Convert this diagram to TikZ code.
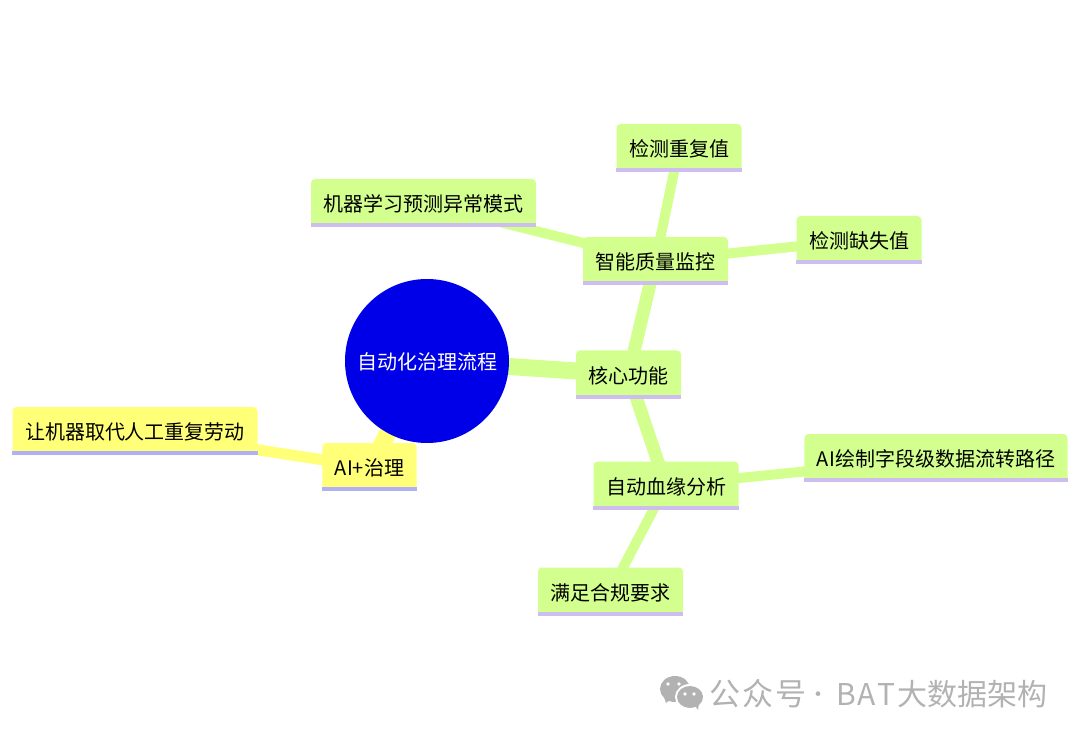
\documentclass[tikz,border=0pt]{standalone}
\usepackage{fontspec}
\setmainfont{Noto Sans CJK SC}
\usetikzlibrary{backgrounds,calc}
\definecolor{rootblue}{RGB}{0,0,232}
\definecolor{leafgreen}{RGB}{210,255,142}
\definecolor{leafyellow}{RGB}{255,255,120}
\definecolor{stripepurple}{RGB}{206,190,240}
\definecolor{stripeblue}{RGB}{176,176,248}
\definecolor{markgray}{RGB}{178,178,178}
\tikzset{
  link/.style={draw=#1, line width=10pt},
  topic/.style={fill=#1, rounded corners=4pt, inner xsep=12.5pt, inner ysep=0pt, minimum height=48pt,
    text height=19pt, text depth=2pt, font=\fontsize{20}{24}\selectfont},
  brand/.style={text=markgray, inner sep=0pt, font=\fontsize{30}{34}\selectfont}
}
\begin{document}
\begin{tikzpicture}[x=1pt,y=-1pt]
  \useasboundingbox (0,0) rectangle (1080,738);
  % Root and the two main branches.
  \node[circle, fill=rootblue, text=white, minimum size=164pt, inner sep=0pt, text height=19pt, text depth=2pt, font=\fontsize{20}{24}\selectfont] (root) at (427,361) {自动化治理流程};
  \node[topic=leafgreen] (core) at (628.5,374.5) {核心功能};
  \node[topic=leafyellow] (aigov) at (369.5,467) {AI+治理};
  \node[topic=leafyellow] (replace) at (135,431) {让机器取代人工重复劳动};

  % Quality monitoring branch.
  \node[topic=leafgreen] (quality) at (655.5,261) {智能质量监控};
  \node[topic=leafgreen] (dup) at (679,148) {检测重复值};
  \node[topic=leafgreen] (predict) at (423.5,203) {机器学习预测异常模式};
  \node[topic=leafgreen] (missing) at (859,240) {检测缺失值};

  % Lineage branch.
  \node[topic=leafgreen] (lineage) at (666,485.5) {自动血缘分析};
  \node[topic=leafgreen] (fieldpath) at (936,458) {AI绘制字段级数据流转路径};
  \node[topic=leafgreen] (comply) at (610.5,591.5) {满足合规要求};

  % Stripe along the foot of every box.
  \foreach \nodename/\stripecolor in {core/stripepurple,quality/stripepurple,dup/stripepurple,predict/stripepurple,missing/stripepurple,lineage/stripepurple,fieldpath/stripepurple,comply/stripepurple,aigov/stripeblue,replace/stripeblue}
    \fill[\stripecolor] (\nodename.south west) rectangle ($(\nodename.south east)+(0,-4)$);

  \begin{pgfonlayer}{background}
    \draw[link=leafgreen, line width=17pt] (root.center) -- (core.center);
    \draw[link=leafyellow, line width=17pt] (root.center) -- (aigov.center);
    \draw[link=leafyellow, line width=11pt] (aigov.center) -- (replace.center);
    \draw[link=leafgreen, line width=13pt] (core.center) -- (quality.center);
    \draw[link=leafgreen, line width=13pt] (core.center) -- (lineage.center);
    \draw[link=leafgreen] (quality.center) -- (dup.center);
    \draw[link=leafgreen] (quality.center) -- (predict.center);
    \draw[link=leafgreen] (quality.center) -- (missing.center);
    \draw[link=leafgreen] (lineage.center) -- (fieldpath.center);
    \draw[link=leafgreen] (lineage.center) -- (comply.center);
  \end{pgfonlayer}

  % Watermark.
  \fill[markgray] (675,689) ellipse [x radius=15, y radius=13];
  \fill[markgray] (664,697) -- (666,703) -- (671,699) -- cycle;
  \fill[white] (690,697) ellipse [x radius=15, y radius=13];
  \fill[markgray] (690,697) ellipse [x radius=13, y radius=11];
  \fill[markgray] (694,704) -- (698,710) -- (699,703) -- cycle;
  \foreach \eyex/\eyey in {668/684,679/684,685/694,694/694}
    \fill[white] (\eyex,\eyey) circle [radius=1.8];
  \node[brand, anchor=west, font=\fontsize{31}{34}\selectfont] (brandname) at (709,694) {公\kern2pt 众\kern2pt 号};
  \node[brand, font=\fontsize{22}{34}\selectfont] (branddot) at (818,697) {·};
  \node[brand, anchor=west] (brandtext) at (836.5,694) {B\kern1.5pt A\kern1.5pt T\kern2pt 大数据架构};
\end{tikzpicture}
\end{document}
